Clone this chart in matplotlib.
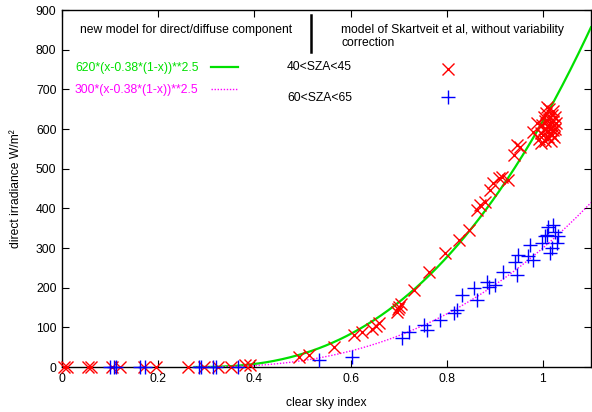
import numpy as np
import matplotlib
matplotlib.use("Agg")
import matplotlib.pyplot as plt
from matplotlib.lines import Line2D

plt.rcParams['font.family'] = ['Liberation Sans', 'DejaVu Sans']

# ---- data ----
red_x = [0.005, 0.01, 0.055, 0.06, 0.105, 0.12, 0.17, 0.196, 0.262, 0.296, 0.325, 0.352, 0.38, 0.39,
         0.493, 0.514, 0.566, 0.607, 0.624, 0.645, 0.652, 0.659, 0.697, 0.700, 0.704, 0.698, 0.732,
         0.763, 0.797, 0.825, 0.846, 0.863, 0.870, 0.880, 0.890, 0.897, 0.908, 0.915, 0.928, 0.939,
         0.946, 0.953, 0.980, 0.987,
         0.992, 0.995, 0.998, 1.000, 1.002, 1.004, 1.005, 1.006, 1.008, 1.010, 1.010, 1.012, 1.013,
         1.014, 1.015, 1.016, 1.018, 1.019, 1.020, 1.021, 1.022, 1.023, 1.024, 1.025, 1.026, 1.027,
         1.003, 0.996, 1.017, 1.009]
red_y = [0, 0, 0, 0, 0, 0, 0, 0, 0, 0, 0, 0, 4, 6,
         26, 30, 51, 81, 89, 97, 103, 110, 139, 152, 160, 145, 194,
         240, 287, 320, 345, 396, 408, 417, 446, 463, 476, 480, 471, 534,
         560, 555, 593, 614,
         575, 590, 610, 585, 600, 620, 570, 640, 595, 605, 580, 625, 650,
         590, 612, 600, 635, 585, 620, 598, 645, 610, 580, 630, 600, 615,
         630, 565, 570, 655]

blue_x = [0.100, 0.108, 0.113, 0.163, 0.172, 0.285, 0.290, 0.315, 0.320, 0.365,
          0.535, 0.604, 0.707, 0.721, 0.752, 0.759, 0.787, 0.815, 0.821, 0.832, 0.856, 0.863,
          0.884, 0.887, 0.901, 0.918, 0.942, 0.946, 0.949, 0.974, 0.980, 0.998, 1.004, 1.008,
          1.011, 1.015, 1.022, 1.025, 1.029, 1.032, 1.018, 0.970]
blue_y = [0, 0, 0, 0, 0, 0, 0, 0, 0, 0,
          18, 26, 72, 89, 106, 93, 118, 135, 144, 181, 198, 169,
          215, 202, 207, 240, 265, 232, 282, 307, 270, 312, 329, 333,
          354, 287, 358, 341, 312, 329, 300, 280]

coef_a = 620
coef_b = 300

W, H = 592, 412
fig = plt.figure(figsize=(W/100, H/100), dpi=100)
ax = fig.add_axes([62/W, 1-367/H, (591-62)/W, (367-10)/H])

x0 = 0.38/1.38
xs = np.linspace(x0, 1.1, 400)
base = np.clip(xs - 0.38*(1-xs), 0, None)
green = '#00e000'
ax.plot(xs, coef_a*base**2.5, color=green, lw=1.6, zorder=3)
ax.plot(xs, coef_b*base**2.5, color='#ff00ff', lw=1.0, ls=(0, (1, 1.2)), zorder=3)

ax.plot(red_x, red_y, ls='none', marker='x', color='#ff0000', ms=8, mew=1.0, clip_on=False, zorder=4)
ax.plot(blue_x, blue_y, ls='none', marker='+', color='#0000ff', ms=10, mew=1.0, clip_on=False, zorder=4)

fs = 8.7
ax.set_xlim(0, 1.1)
ax.set_ylim(0, 900)
ax.set_xticks([0, 0.2, 0.4, 0.6, 0.8, 1.0])
ax.set_xticklabels(['0', '0.2', '0.4', '0.6', '0.8', '1'])
ax.set_yticks(range(0, 901, 100))
ax.tick_params(direction='in', length=5, width=0.8, labelsize=fs, top=True, right=True, pad=4)
for s in ax.spines.values():
    s.set_linewidth(1.0)
ax.set_xlabel('clear sky index', fontsize=fs, labelpad=9)
ax.set_ylabel('direct irradiance W/m²', fontsize=fs, labelpad=10)

def fx(px):
    return px / W

def fy(py):
    return 1 - py / H

fig.text(fx(80), fy(30), 'new model for direct/diffuse component', fontsize=fs, va='center', ha='left')
fig.add_artist(Line2D([fx(311), fx(311)], [fy(15), fy(52)], color='black', lw=1.8))
fig.text(fx(341), fy(30), 'model of Skartveit et al, without variability', fontsize=fs, va='center', ha='left')
fig.text(fx(341), fy(43), 'correction', fontsize=fs, va='center', ha='left')
fig.text(fx(75), fy(68), '620*(x-0.38*(1-x))**2.5', fontsize=fs, va='center', ha='left', color=green)
fig.add_artist(Line2D([fx(211), fx(238)], [fy(67), fy(67)], color=green, lw=1.6))
fig.text(fx(75), fy(90), '300*(x-0.38*(1-x))**2.5', fontsize=fs, va='center', ha='left', color='#ff00ff')
fig.add_artist(Line2D([fx(211), fx(238)], [fy(89), fy(89)], color='#ff00ff', lw=1.0, ls=(0, (1, 1.2))))
fig.text(fx(287), fy(67), '40<SZA<45', fontsize=fs, va='center', ha='left')
fig.add_artist(Line2D([fx(448)], [fy(69)], ls='none', marker='x', color='#ff0000', ms=8, mew=1.0))
fig.text(fx(287), fy(98), '60<SZA<65', fontsize=fs, va='center', ha='left')
fig.add_artist(Line2D([fx(448)], [fy(97)], ls='none', marker='+', color='#0000ff', ms=10, mew=1.0))

fig.savefig('out.png', dpi=100)
